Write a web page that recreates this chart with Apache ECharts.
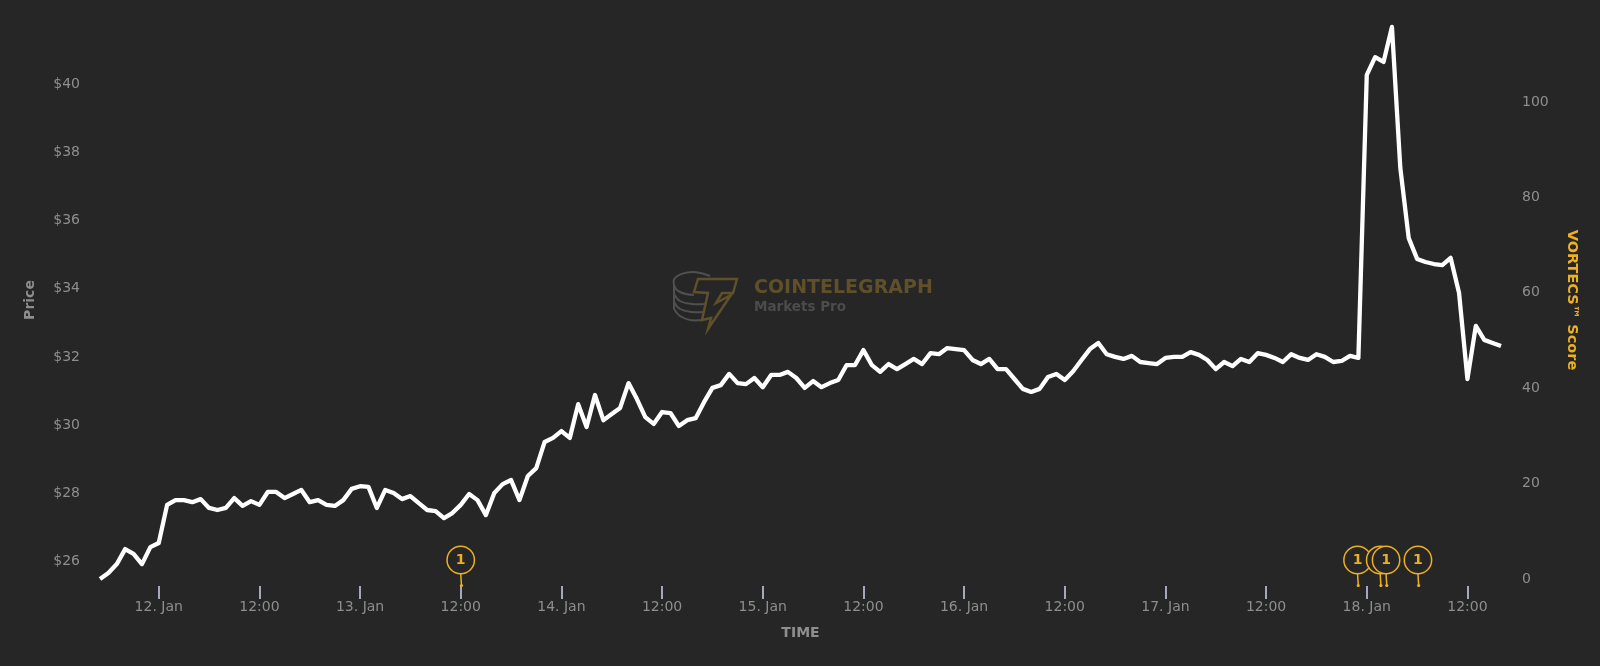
<!DOCTYPE html>
<html>
<head>
<meta charset="utf-8">
<style>html,body{margin:0;padding:0;background:#262626}#c{width:1600px;height:666px}</style>
<script src="https://cdn.jsdelivr.net/npm/echarts@6/dist/echarts.min.js"></script>
</head>
<body>
<div id="c"></div>
<script>
const prices = [25.47,25.65,25.91,26.35,26.21,25.91,26.41,26.53,27.65,27.79,27.79,27.73,27.82,27.56,27.50,27.56,27.85,27.62,27.76,27.65,28.03,28.03,27.85,27.97,28.09,27.73,27.79,27.65,27.62,27.79,
28.12,28.20,28.18,27.56,28.09,28.00,27.82,27.91,27.70,27.50,27.47,27.26,27.41,27.65,27.97,27.79,27.35,28.00,28.26,28.38,27.79,28.50,28.73,29.50,29.62,29.82,29.62,30.61,29.94,30.88,
30.14,30.32,30.50,31.23,30.76,30.23,30.03,30.38,30.35,29.97,30.14,30.20,30.67,31.09,31.17,31.50,31.23,31.20,31.38,31.11,31.47,31.47,31.56,31.38,31.09,31.29,31.11,31.23,31.32,31.76,
31.76,32.20,31.76,31.56,31.79,31.64,31.79,31.94,31.79,32.11,32.08,32.26,32.23,32.20,31.91,31.79,31.94,31.64,31.64,31.35,31.06,30.97,31.06,31.41,31.50,31.32,31.58,31.91,32.23,32.41,
32.08,32.00,31.94,32.03,31.85,31.82,31.79,31.97,32.00,32.00,32.14,32.06,31.91,31.64,31.85,31.73,31.94,31.85,32.11,32.06,31.97,31.85,32.08,31.97,31.91,32.08,32.00,31.85,31.88,32.03,
31.97,40.29,40.81,40.67,41.70,37.55,35.49,34.88,34.79,34.73,34.70,34.91,33.88,31.35,32.91,32.50,32.41,32.32];
// hours counted from 11 Jan 17:00
const xTickHours = [7,19,31,43,55,67,79,91,103,115,127,139,151,163];
const xTickLabels = ["12. Jan","12:00","13. Jan","12:00","14. Jan","12:00","15. Jan","12:00","16. Jan","12:00","17. Jan","12:00","18. Jan","12:00"];
const priceTicks = [26,28,30,32,34,36,38,40];
const scoreTicks = [0,20,40,60,80,100];
const flagHours = [43,149.9,152.6,153.3,157.1];
const flagLabels = ["1","1","1","1","1"];
const flagPrice = [26.03,26.03,26.03,26.03,26.03];

const FONT = '"DejaVu Sans", sans-serif';
const GOLD = '#ecb022';
const coinStroke = {fill:null,stroke:'#505050',lineWidth:2};
const chart = echarts.init(document.getElementById('c'), null, {renderer:'canvas'});
chart.setOption({
  animation:false,
  backgroundColor:'#262626',
  grid:{left:100,right:99,top:14,bottom:80,containLabel:false},
  xAxis:{
    type:'value',
    min:0,
    max:prices.length-1,
    name:'TIME',nameLocation:'middle',nameGap:40,
    nameTextStyle:{color:'#8e8e8e',fontFamily:FONT,fontWeight:'bold',fontSize:14},
    axisLine:{show:false,onZero:false},
    splitLine:{show:false},
    axisTick:{show:true,length:13,customValues:xTickHours,lineStyle:{color:'#ccd6eb',width:1.5}},
    axisLabel:{
      customValues:xTickHours,
      margin:14,
      color:'#8e8e8e',fontFamily:FONT,fontSize:14,
      hideOverlap:false,
      formatter:v=>xTickLabels[xTickHours.indexOf(+v)]
    }
  },
  yAxis:[{
    type:'value',
    min:25.266,max:42.079,
    name:'Price',nameLocation:'middle',nameGap:63,
    nameTextStyle:{color:'#8e8e8e',fontFamily:FONT,fontWeight:'bold',fontSize:14},
    axisLine:{show:false},axisTick:{show:false},splitLine:{show:false},
    axisLabel:{customValues:priceTicks,margin:20,color:'#8e8e8e',fontFamily:FONT,fontSize:14,formatter:v=>'$'+v}
  },{
    type:'value',
    position:'right',
    min:-1.467,max:118.45,
    name:'VORTECS™ Score',nameLocation:'middle',nameGap:63,nameRotate:-90,
    nameTextStyle:{color:GOLD,fontFamily:FONT,fontWeight:'bold',fontSize:14.5},
    axisLine:{show:false},axisTick:{show:false},splitLine:{show:false},
    axisLabel:{customValues:scoreTicks,margin:21,color:'#8e8e8e',fontFamily:FONT,fontSize:14}
  }],
  graphic:[{
    type:'group',silent:true,z:0,
    children:[
      {type:'text',x:754,y:288,style:{text:'COINTELEGRAPH',fill:'#5f5029',font:'bold 19px "DejaVu Sans"',textVerticalAlign:'middle'}},
      {type:'text',x:754,y:307,style:{text:'Markets Pro',fill:'#4c4c4c',font:'bold 13.5px "DejaVu Sans"',textVerticalAlign:'middle'}},
      {type:'polyline',shape:{smooth:0.4,points:[[710,276],[692,272],[676,277],[674,285],[680,292],[694,295]]},style:coinStroke},
      {type:'polyline',shape:{points:[[674,285],[674,309]]},style:coinStroke},
      {type:'polyline',shape:{smooth:0.4,points:[[674,294],[680,301],[692,304],[705,304]]},style:coinStroke},
      {type:'polyline',shape:{smooth:0.4,points:[[674,302],[680,309],[692,312],[703,312]]},style:coinStroke},
      {type:'polyline',shape:{smooth:0.4,points:[[674,309],[680,316],[690,320],[702,320]]},style:coinStroke},
      {type:'polygon',shape:{points:[[698,279],[737,279],[733,293],[722,293],[716,303],[731,295],[708,329],[711,318],[702,320],[708,293],[694,292]]},
       style:{fill:null,stroke:'#5f5029',lineWidth:2.5}}
    ]
  }],
  series:[{
    type:'line',
    yAxisIndex:0,
    data:prices.map((p,i)=>[i,p]),
    showSymbol:false,
    smooth:false,
    z:3,
    lineStyle:{color:'#ffffff',width:4.3,join:'round',cap:'butt'}
  },{
    type:'custom',
    yAxisIndex:0,
    z:4,
    data:flagHours.map((h,i)=>[h,flagPrice[i]]),
    encode:{x:0,y:1},
    renderItem:(params,api)=>{
      const c=api.coord([api.value(0),api.value(1)]);
      const base=params.coordSys.y+params.coordSys.height;
      return {type:'group',children:[
        {type:'line',shape:{x1:c[0],y1:c[1]+14,x2:c[0]+0.7,y2:base-1},style:{stroke:GOLD,lineWidth:1.5}},
        {type:'circle',shape:{cx:c[0]+0.7,cy:base-0.5,r:1.6},style:{fill:GOLD}},
        {type:'circle',shape:{cx:c[0],cy:c[1],r:13.7},style:{fill:'#262626',stroke:GOLD,lineWidth:1.5}},
        {type:'text',x:c[0],y:c[1],style:{text:flagLabels[params.dataIndex],fill:GOLD,font:'bold 14px "DejaVu Sans"',textAlign:'center',textVerticalAlign:'middle'}}
      ]};
    }
  }]
});
</script>
</body>
</html>
